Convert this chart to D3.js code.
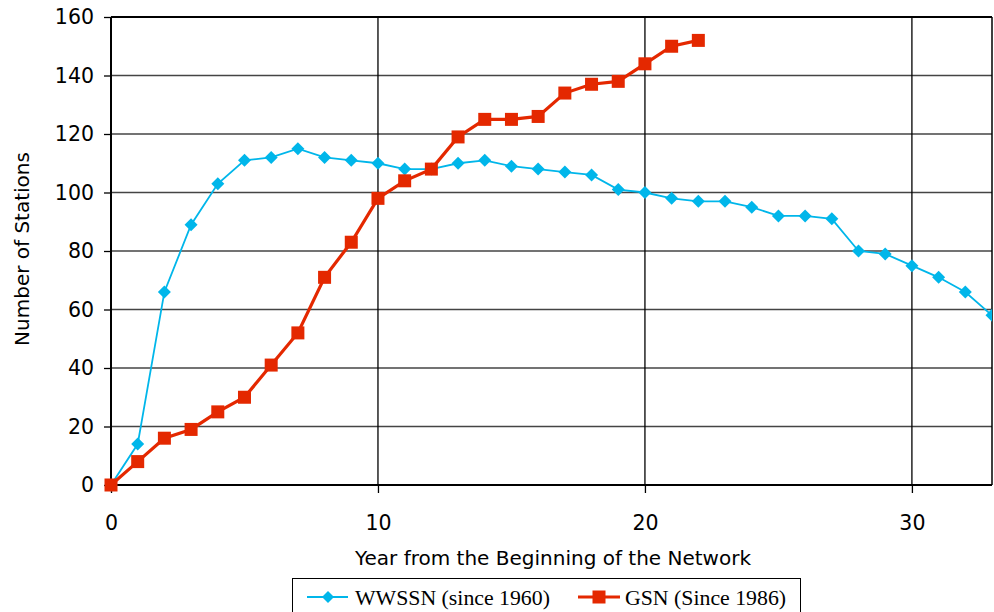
<!DOCTYPE html>
<html><head><meta charset="utf-8">
<script src="https://cdn.jsdelivr.net/npm/d3@7"></script>
<style>body{margin:0;background:#fff}svg{display:block}</style>
</head><body><svg id="c" width="994" height="612"></svg>
<script>
const wwssnYears = d3.range(0, 34);
const wwssnValues = [0,14,66,89,103,111,112,115,112,111,110,108,108,110,111,109,108,107,106,101,100,98,97,97,95,92,92,91,80,79,75,71,66,58];
const gsnYears = d3.range(0, 23);
const gsnValues = [0,8,16,19,25,30,41,52,71,83,98,104,108,119,125,125,126,134,137,138,144,150,152];
const xTicks = [0,10,20,30];
const yTicks = [0,20,40,60,80,100,120,140,160];
const seriesNames = ["WWSSN (since 1960)", "GSN (Since 1986)"];
const xTitle = "Year from the Beginning of the Network";
const yTitle = "Number of Stations";

const svg = d3.select("#c");
const L = 111, R = 992, T = 17, B = 485;
const x = d3.scaleLinear().domain([0,33]).range([L,R]);
const y = d3.scaleLinear().domain([0,160]).range([B,T]);
const blue = "#00b6ea", red = "#e42800";
const font = "'DejaVu Sans', Verdana, sans-serif";
const serif = "'Liberation Serif', 'Times New Roman', serif";

// gridlines
svg.append("g").selectAll("line").data(yTicks.filter(d=>d>0)).join("line")
  .attr("x1",L).attr("x2",R).attr("y1",d=>y(d)).attr("y2",d=>y(d))
  .attr("stroke", d=> d===160 ? "#000" : "#444").attr("stroke-width", d=> d===160 ? 2 : 1.3);
svg.append("g").selectAll("line").data(xTicks.filter(d=>d>0)).join("line")
  .attr("x1",d=>x(d)).attr("x2",d=>x(d)).attr("y1",T).attr("y2",B)
  .attr("stroke","#000").attr("stroke-width",1.3);
svg.append("line").attr("x1",R).attr("x2",R).attr("y1",T).attr("y2",B).attr("stroke","#000").attr("stroke-width",1.5);

// axes
const xAxis = d3.axisBottom(x).tickValues(xTicks).tickSize(8).tickPadding(22).tickFormat(d3.format("d"));
const gx = svg.append("g").attr("transform",`translate(0,${B})`).call(xAxis);
gx.select(".domain").attr("stroke","#000").attr("stroke-width",2).attr("d",`M${L},0H${R}`);
gx.selectAll(".tick line").attr("stroke","#000").attr("stroke-width",1.3);
gx.selectAll("text").attr("font-family",font).attr("font-size",20.5).attr("fill","#000");

const yAxis = d3.axisLeft(y).tickValues(yTicks).tickSize(7).tickPadding(10);
const gy = svg.append("g").attr("transform",`translate(${L},0)`).call(yAxis);
gy.select(".domain").attr("stroke","#000").attr("stroke-width",2).attr("d",`M0,${B}V${T}`);
gy.selectAll(".tick line").attr("stroke","#000").attr("stroke-width",1.3);
gy.selectAll("text").attr("font-family",font).attr("font-size",20.5).attr("fill","#000");

// titles
svg.append("text").attr("x",553).attr("y",565).attr("text-anchor","middle")
  .attr("font-family",font).attr("font-size",20).text(xTitle);
svg.append("text").attr("transform","translate(29,249) rotate(-90)").attr("text-anchor","middle")
  .attr("font-family",font).attr("font-size",20).text(yTitle);

// lines
const line = d3.line().x(d=>x(d[0])).y(d=>y(d[1]));
const wData = wwssnYears.map((d,i)=>[d,wwssnValues[i]]);
const gData = gsnYears.map((d,i)=>[d,gsnValues[i]]);
svg.append("clipPath").attr("id","cl").append("rect").attr("x",L-10).attr("y",0).attr("width",R-L+10).attr("height",B+10);

const wg = svg.append("g").attr("clip-path","url(#cl)");
wg.append("path").datum(wData).attr("d",line).attr("fill","none").attr("stroke",blue).attr("stroke-width",1.8);
const diamond = s => `M0,${-s}L${s},0L0,${s}L${-s},0Z`;
wg.selectAll("path.m").data(wData).join("path").attr("class","m")
  .attr("transform",d=>`translate(${x(d[0])},${y(d[1])})`).attr("d",diamond(6.5)).attr("fill",blue);

const gg = svg.append("g");
gg.append("path").datum(gData).attr("d",line).attr("fill","none").attr("stroke",red).attr("stroke-width",3.2);
gg.selectAll("rect").data(gData).join("rect")
  .attr("x",d=>x(d[0])-6.5).attr("y",d=>y(d[1])-6.5).attr("width",13).attr("height",13).attr("fill",red);

// legend
const lg = svg.append("g");
lg.append("rect").attr("x",292.5).attr("y",578.5).attr("width",508).attr("height",40).attr("fill","#fff").attr("stroke","#000").attr("stroke-width",1);
lg.append("line").attr("x1",307).attr("x2",348).attr("y1",597).attr("y2",597).attr("stroke",blue).attr("stroke-width",1.8);
lg.append("path").attr("transform","translate(328,597)").attr("d",diamond(6)).attr("fill",blue);
lg.append("text").attr("x",355).attr("y",605).attr("font-family",serif).attr("font-size",21.8).text(seriesNames[0]);
lg.append("line").attr("x1",578).attr("x2",620).attr("y1",597).attr("y2",597).attr("stroke",red).attr("stroke-width",3.2);
lg.append("rect").attr("x",592.5).attr("y",590.5).attr("width",13).attr("height",13).attr("fill",red);
lg.append("text").attr("x",625).attr("y",605).attr("font-family",serif).attr("font-size",21.8).text(seriesNames[1]);
</script></body></html>
